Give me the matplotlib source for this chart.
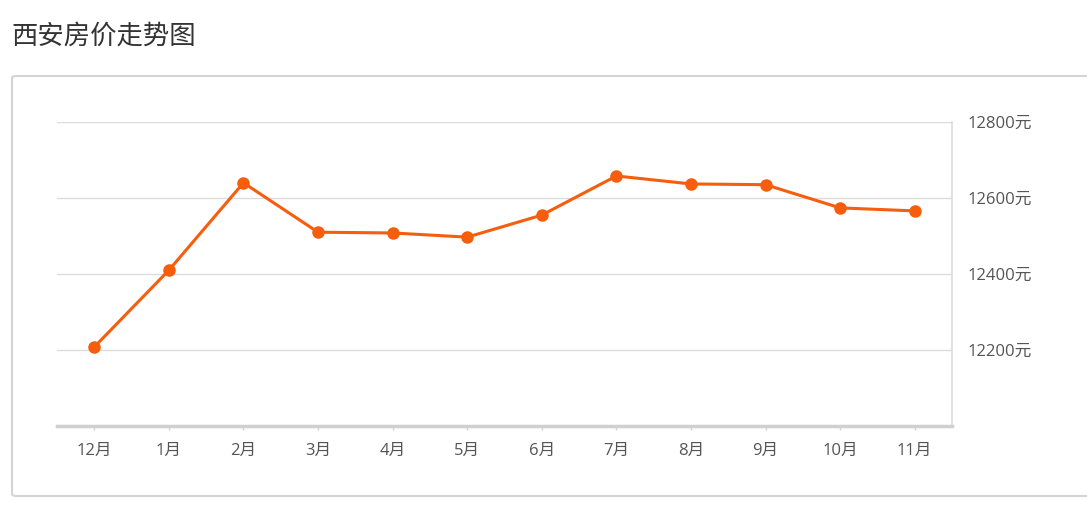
import matplotlib
matplotlib.use('Agg')
import matplotlib.pyplot as plt
from matplotlib.patches import FancyBboxPatch

plt.rcParams['font.family'] = ['Noto Sans CJK SC', 'DejaVu Sans']

# data
months = ['12月', '1月', '2月', '3月', '4月', '5月', '6月', '7月', '8月', '9月', '10月', '11月']
prices = [12208, 12410, 12640, 12510, 12508, 12497, 12555, 12658, 12637, 12635, 12574, 12566]
yticks = [12200, 12400, 12600, 12800]
ylabels = ['12200元', '12400元', '12600元', '12800元']

fig = plt.figure(figsize=(10.87, 5.2), dpi=100)

# outer rounded box
box = FancyBboxPatch((12 / 1087, 24 / 520), 1090 / 1087, 420 / 520,
                     boxstyle='round,pad=0,rounding_size=0.004',
                     transform=fig.transFigure, facecolor='white',
                     edgecolor='#d4d4d4', linewidth=1.5, zorder=-5)
fig.patches.append(box)

fig.text(11 / 1087, 1 - 36 / 520, '西安房价走势图', fontsize=19, color='#333333',
         ha='left', va='center')

ax = fig.add_axes([57 / 1087, 94 / 520, 895 / 1087, 304 / 520])
ax.set_zorder(2)
ax.set_facecolor('none')
x = list(range(len(months)))
ax.plot(x, prices, color='#f65d0c', linewidth=2.2, marker='o', markersize=8,
        zorder=3, clip_on=False)

ax.set_xlim(-0.5, len(months) - 0.5)
ax.set_ylim(12000, 12800)
ax.set_xticks(x)
ax.set_xticklabels(months)
ax.set_yticks(yticks)
ax.set_yticklabels(ylabels)
ax.yaxis.tick_right()
ax.tick_params(axis='y', length=0, pad=11, labelsize=12, labelcolor='#555555')
ax.tick_params(axis='x', length=3, width=1, color='#d0d0d0', pad=9,
               labelsize=12, labelcolor='#555555')
for lab in ax.get_xticklabels() + ax.get_yticklabels():
    lab.set_family(['Open Sans', 'Noto Sans CJK SC'])
ax.grid(axis='y', color='#dcdcdc', linewidth=1)
for s in ['left', 'top']:
    ax.spines[s].set_visible(False)
ax.spines['right'].set_color('#dcdcdc')
ax.spines['right'].set_linewidth(1.2)
ax.spines['bottom'].set_color('#d0d0d0')
ax.spines['bottom'].set_linewidth(2.5)
ax.set_axisbelow(True)

fig.savefig('out.png', dpi=100)
